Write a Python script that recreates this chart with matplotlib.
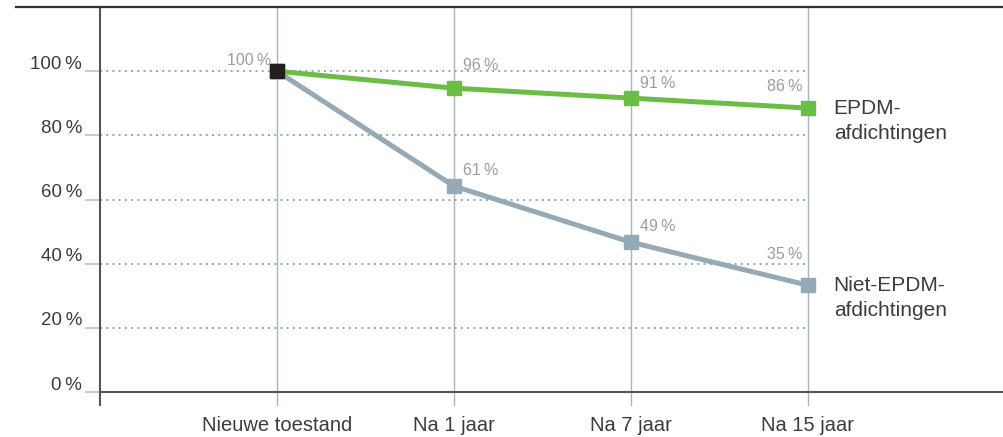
import matplotlib
matplotlib.use("Agg")
import matplotlib.pyplot as plt
import matplotlib.transforms as mtransforms
from matplotlib.lines import Line2D

plt.rcParams["font.family"] = ["Liberation Sans", "DejaVu Sans"]

# data as drawn in the picture (positions) and as printed (labels)
categories = ["Nieuwe toestand", "Na 1 jaar", "Na 7 jaar", "Na 15 jaar"]
epdm = [100, 94.7, 91.6, 88.5]
niet_epdm = [100, 64.2, 46.7, 33.3]
epdm_labels = ["96", "91", "86"]
niet_labels = ["61", "49", "35"]
yticks = [0, 20, 40, 60, 80, 100]

GREEN = "#6cbd45"
GREY = "#95a9b6"
GRID = "#8ea5b4"
VLINE = "#a3b6c4"
TXT = "#3c3c3c"
LBL = "#9c9c9c"
PCT = "\u2009%"

fig = plt.figure(figsize=(10.04, 4.37), dpi=100, facecolor="white")
ax = fig.add_axes([100 / 1004, 45 / 437, 904 / 1004, 385 / 437])
ax.set_xlim(-1, 4.11)
ax.set_ylim(0, 120)
for s in ("top", "right"):
    ax.spines[s].set_visible(False)
ax.spines["left"].set_color("#555555")
ax.spines["left"].set_linewidth(1.5)
ax.spines["bottom"].set_color("#555555")
ax.spines["bottom"].set_linewidth(1.5)

x = list(range(len(categories)))

# vertical category lines, run a bit below the axis
for xi in x:
    ax.plot([xi, xi], [-4, 120], color=VLINE, lw=1.0, clip_on=False, zorder=1)
ax.plot([-1, -1], [-4, 0], color="#555555", lw=1.5, clip_on=False)

# dotted grid lines up to the last category
ax.hlines(yticks[1:], -1, x[-1], colors=GRID, linestyles=(0, (1, 2.2)), lw=1.4, zorder=1)

# y ticks with labels lifted above the line
ax.set_yticks(yticks)
ax.set_yticklabels([f"{v}{PCT}" for v in yticks], fontsize=13.5, color=TXT)
ax.tick_params(axis="y", length=11, width=1.2, color="#b7c6d0", pad=2)
lift = mtransforms.ScaledTranslation(0, 9 / 100, fig.dpi_scale_trans)
for t in ax.get_yticklabels():
    t.set_transform(t.get_transform() + lift)

ax.set_xticks(x)
ax.set_xticklabels(categories, fontsize=14.5, color=TXT)
ax.tick_params(axis="x", length=0, pad=17)

# series
ax.plot(x, niet_epdm, color=GREY, lw=3.6, marker="s", ms=10, zorder=3, clip_on=False)
ax.plot(x, epdm, color=GREEN, lw=3.6, marker="s", ms=10, zorder=4, clip_on=False)
ax.plot(x[0], epdm[0], marker="s", ms=10, color="#231f20", zorder=5, linestyle="none")

# value labels
def lab(xv, yv, s, dx, dy, ha):
    ax.annotate(s, (xv, yv), xytext=(dx, dy), textcoords="offset pixels",
                ha=ha, va="center", fontsize=11.5, color=LBL)

lab(x[0], 100, "100" + PCT, -6, 11, "right")
for i, (s1, s2) in enumerate(zip(epdm_labels, niet_labels), start=1):
    if i < 3:
        lab(x[i], epdm[i], s1 + PCT, 9, 23 if i == 1 else 15, "left")
        lab(x[i], niet_epdm[i], s2 + PCT, 9, 16, "left")
    else:
        lab(x[i], epdm[i], s1 + PCT, -5, 22, "right")
        lab(x[i], niet_epdm[i], s2 + PCT, -5, 31, "right")

# series names at right
for yv, name in [(epdm[-1], "EPDM-"), (niet_epdm[-1], "Niet-EPDM-")]:
    ax.annotate(name, (x[-1], yv), xytext=(26, 0), textcoords="offset pixels",
                ha="left", va="center", fontsize=15, color=TXT)
    ax.annotate("afdichtingen", (x[-1], yv), xytext=(26, -25), textcoords="offset pixels",
                ha="left", va="center", fontsize=15, color=TXT)

# top rule
fig.add_artist(Line2D([16 / 1004, 1.0], [430 / 437, 430 / 437], color="#333333", lw=1.6))

fig.savefig("out.png", dpi=100, facecolor="white")
